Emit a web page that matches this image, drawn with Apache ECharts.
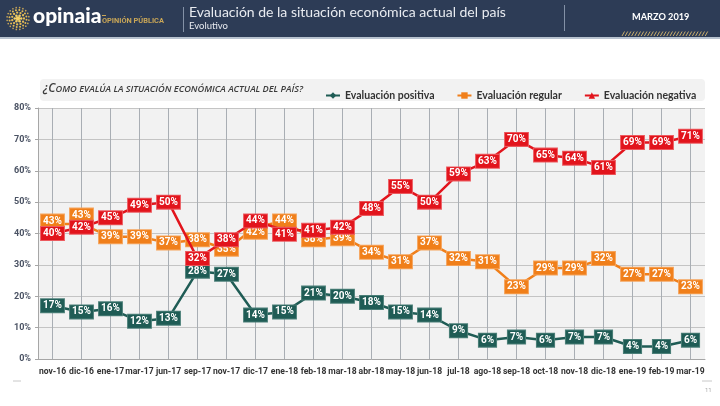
<!DOCTYPE html>
<html><head><meta charset="utf-8">
<script src="https://cdn.jsdelivr.net/npm/echarts@6/dist/echarts.min.js"></script>
<style>html,body{margin:0;padding:0;background:#fff}#c{width:720px;height:406px}</style>
</head><body><div id="c"></div>
<script>
const categories = ['nov-16','dic-16','ene-17','mar-17','jun-17','sep-17','nov-17','dic-17','ene-18','feb-18','mar-18','abr-18','may-18','jun-18','jul-18','ago-18','sep-18','oct-18','nov-18','dic-18','ene-19','feb-19','mar-19'];
const positiva = [17,15,16,12,13,28,27,14,15,21,20,18,15,14,9,6,7,6,7,7,4,4,6];
const regular  = [43,43,39,39,37,38,35,42,44,38,39,34,31,37,32,31,23,29,29,32,27,27,23];
const negativa = [40,42,45,49,50,32,38,44,41,41,42,48,55,50,59,63,70,65,64,61,69,69,71];
const seriesNames = ['Evaluación positiva','Evaluación regular','Evaluación negativa'];
const yMin = 0, yMax = 80, yStep = 10;

const GREEN = '#1f5c55', ORANGE = '#f07f1a', RED = '#e2141c';
// label nudges (style only), index -> y offset
const nudgeRegular = {0:-3, 1:-9, 7:5, 10:2};
const nudgeNegativa = {8:4};

function withNudge(arr, nudge){
  return arr.map((v,i)=> nudge[i]!==undefined ? {value:v, label:{offset:[0,nudge[i]]}} : v);
}
function lbl(color, border){
  return {show:true, position:'inside', formatter:'{c}%', color:'#fff', fontWeight:'bold',
    fontFamily:'Roboto', fontSize:10, backgroundColor:color, padding:[2,2,1,2],
    borderColor:border, borderWidth:1};
}
function smallCaps(s){
  const m = s.match(/^([^A-Za-z]*[A-Za-z])(.*)$/);
  return '{b|'+m[1].toUpperCase()+'}{s|'+m[2].toUpperCase()+'}';
}

// logo dots
const logoDots = [];
const rings = [[0,1,2.2],[3.2,6,1.3],[6,11,1.15],[8.6,16,1.0],[11,20,0.85]];
rings.forEach(([r,n,sz])=>{
  for(let k=0;k<n;k++){
    const a = 2*Math.PI*k/n + (r>7?0.15:0);
    logoDots.push({type:'circle', shape:{cx:18+r*Math.cos(a), cy:18.5+r*Math.sin(a), r:sz},
      style:{fill: r<4 ? '#f3cf63' : (r<9 ? '#e3bb55' : '#c9a657')}, silent:true});
  }
});
const hatch = [];
for(let x=622;x<=708;x+=3.2){
  hatch.push({type:'line', shape:{x1:x, y1:36, x2:x+2.5, y2:31.5}, style:{stroke:'#c8ad6c', lineWidth:1}, silent:true});
}

const chart = echarts.init(document.getElementById('c'));
chart.setOption({
  animation:false,
  backgroundColor:'#ffffff',
  graphic:[
    {type:'rect', shape:{x:0,y:0,width:720,height:37}, style:{fill:'#2d3c56'}, z:-10},
    {type:'rect', shape:{x:0,y:37,width:720,height:2}, style:{fill:'#b7c2cf'}, z:-10},
    ...logoDots,
    {type:'text', left:33, top:6, style:{text:'opinaia', fill:'#ffffff', font:'900 21px Lato', textVerticalAlign:'top'}},
    {type:'rect', shape:{x:102,y:15,width:4,height:1}, style:{fill:'#c9a657'}},
    {type:'text', left:102, top:17.5, style:{text:'OPINIÓN PÚBLICA', fill:'#c9a657', font:'bold 7.4px Roboto'}},
    {type:'line', shape:{x1:183.5,y1:7,x2:183.5,y2:32}, style:{stroke:'#8391a6', lineWidth:1}},
    {type:'text', left:189, top:5, style:{text:'Evaluación de la situación económica actual del país', fill:'#e8ebf0', font:'14px Lato'}},
    {type:'text', left:189, top:21, style:{text:'Evolutivo', fill:'#e8ebf0', font:'9.5px Lato'}},
    {type:'line', shape:{x1:564.5,y1:5,x2:564.5,y2:31}, style:{stroke:'#8391a6', lineWidth:1}},
    {type:'text', left:632, top:12.5, style:{text:'MARZO 2019', fill:'#ffffff', font:'bold 9.2px Lato'}},
    ...hatch,
    {type:'rect', shape:{x:40,y:79,width:665,height:22,r:4}, style:{fill:'#f2f2f2'}, z:-5},
    {type:'text', left:43, top:83, style:{
      text: smallCaps('¿Como evalúa la situación económica actual del país?'),
      rich:{ b:{font:'italic 600 12px "Open Sans"', fill:'#3b3b3b'}, s:{font:'italic 600 9.2px "Open Sans"', fill:'#3b3b3b'} }
    }},
    {type:'line', shape:{x1:13,y1:381,x2:21,y2:381}, style:{stroke:'#c8c8c8', lineWidth:1}},
    {type:'line', shape:{x1:702,y1:381,x2:712,y2:381}, style:{stroke:'#c8c8c8', lineWidth:1}},
    {type:'text', left:705, top:387, style:{text:'11', fill:'#aaaaaa', font:'6px Roboto'}}
  ],
  legend:{
    left:320, top:85, itemWidth:14, itemHeight:8, itemGap:22,
    textStyle:{fontFamily:'Lato', fontWeight:'bold', fontSize:10.5, color:'#333'},
    data:seriesNames
  },
  grid:{left:38, right:15, top:108, bottom:47, show:true, backgroundColor:'#f2f2f2', borderWidth:0},
  xAxis:{
    type:'category', data:categories, boundaryGap:true,
    axisLine:{lineStyle:{color:'#a6a6a6'}},
    axisTick:{show:false},
    axisLabel:{interval:0, color:'#333', fontWeight:'bold', fontSize:8.6, fontFamily:'Roboto', margin:8},
    splitLine:{show:true, alignWithLabel:true, lineStyle:{color:'#a9aeb4', width:1}}
  },
  yAxis:{
    type:'value', min:yMin, max:yMax, interval:yStep,
    axisLine:{show:true, lineStyle:{color:'#a6a6a6'}},
    axisTick:{show:true, length:3, lineStyle:{color:'#a6a6a6'}},
    axisLabel:{formatter:'{value}%', color:'#4a5263', fontWeight:'bold', fontSize:9, fontFamily:'Roboto', margin:7},
    splitLine:{lineStyle:{color:'#c4c4c4'}}
  },
  series:[
    {name:seriesNames[0], type:'line', data:positiva, symbol:'diamond', symbolSize:7,
      lineStyle:{width:2.5, color:GREEN}, itemStyle:{color:GREEN}, label:lbl(GREEN,'#4b7f78'), z:2},
    {name:seriesNames[1], type:'line', data:withNudge(regular,nudgeRegular), symbol:'rect', symbolSize:7,
      lineStyle:{width:2.5, color:ORANGE}, itemStyle:{color:ORANGE}, label:lbl(ORANGE,'#f5a35a'), z:3},
    {name:seriesNames[2], type:'line', data:withNudge(negativa,nudgeNegativa), symbol:'triangle', symbolSize:8,
      lineStyle:{width:2.5, color:RED}, itemStyle:{color:RED}, label:lbl(RED,'#ec5a5f'), z:4}
  ]
});
</script></body></html>
